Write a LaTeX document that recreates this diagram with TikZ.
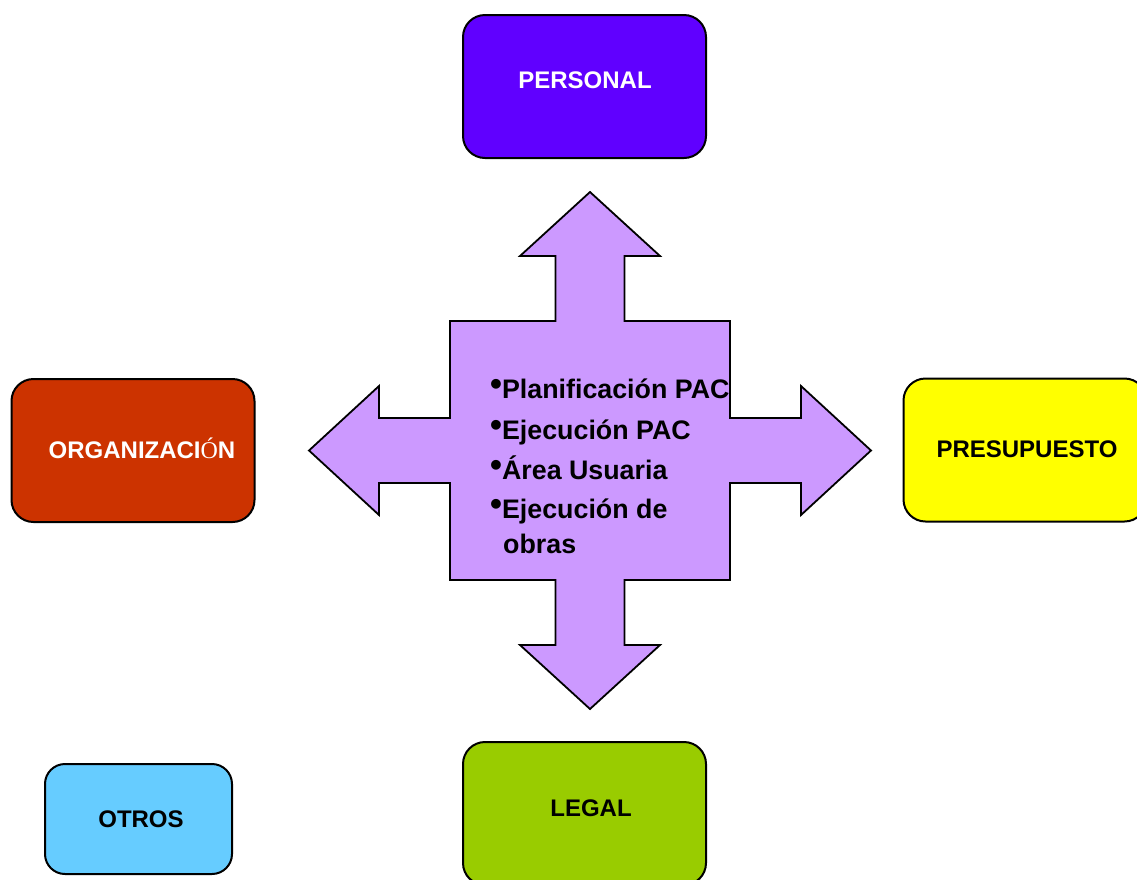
\documentclass[tikz,border=0pt]{standalone}
\usepackage{fontspec}
\setmainfont{Liberation Sans}
\newfontfamily\serifO{Liberation Serif}
\definecolor{cPersonal}{HTML}{6000FF}
\definecolor{cOrg}{HTML}{CC3300}
\definecolor{cPres}{HTML}{FFFF00}
\definecolor{cLegal}{HTML}{99CC00}
\definecolor{cOtros}{HTML}{66CCFF}
\definecolor{cArrow}{HTML}{CC99FF}
\newcommand{\blt}{\raisebox{3pt}{\fontsize{34}{34}\selectfont\textbullet}}
\begin{document}
\begin{tikzpicture}[x=1pt,y=-1pt,
  box/.style={draw=black,line width=2pt,rounded corners=22pt,inner sep=0pt,minimum width=243pt,minimum height=143pt},
  lbl/.style={font=\bfseries\fontsize{24}{28}\selectfont,inner sep=0pt},
  item/.style={font=\bfseries\fontsize{26.8}{30}\selectfont,anchor=base west,inner sep=0pt}]
\useasboundingbox (0,0) rectangle (1137,879);
\clip (0,0) rectangle (1137,879);

% boxes
\node[box,fill=cPersonal] (personal) at (584.5,86.5) {};
\node[lbl,text=white] (tpersonal) at (585,80) {PERSONAL};

\node[box,fill=cOrg] (org) at (133,450.5) {};
\node[lbl,text=white] (torg) at (142,448) {ORGANIZACI{\serifO\mdseries Ó}N};

\node[box,fill=cPres] (pres) at (1025,450) {};
\node[lbl] (tpres) at (1027,449) {PRESUPUESTO};

\node[box,fill=cLegal] (legal) at (584.5,813.5) {};
\node[lbl] (tlegal) at (591,808) {LEGAL};

\node[box,fill=cOtros,minimum width=187pt,minimum height=110pt,rounded corners=20pt] (otros) at (138.5,819) {};
\node[lbl] (totros) at (141,819) {OTROS};

% cross arrow
\draw[fill=cArrow,line width=1.8pt,line join=miter]
  (590,192) -- (660,256) -- (624.5,256) -- (624.5,321) -- (730,321) -- (730,418)
  -- (801,418) -- (801,386) -- (871,450.5) -- (801,515) -- (801,483) -- (730,483)
  -- (730,580) -- (624.5,580) -- (624.5,645) -- (660,645) -- (590,709) -- (520,645)
  -- (555.5,645) -- (555.5,580) -- (450,580) -- (450,483) -- (379,483) -- (379,515)
  -- (309,450.5) -- (379,386) -- (379,418) -- (450,418) -- (450,321) -- (555.5,321)
  -- (555.5,256) -- (520,256) -- cycle;

% items
\node[item] (i1) at (490,398) {\blt Planificación PAC};
\node[item] (i2) at (490,439) {\blt Ejecución PAC};
\node[item] (i3) at (490,479) {\blt Área Usuaria};
\node[item] (i4) at (490,518) {\blt Ejecución de};
\node[item] (i5) at (503,553) {obras};
\end{tikzpicture}
\end{document}
